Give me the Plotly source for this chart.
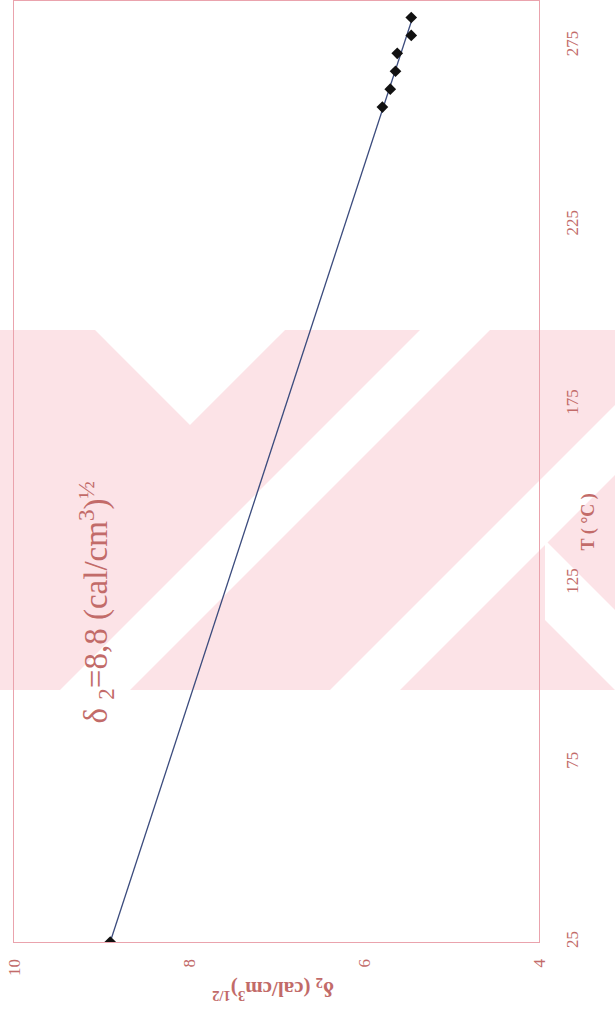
import numpy as np
import plotly.graph_objects as go

# Temperature (°C) and solubility parameter δ2 ((cal/cm³)^½)
temperature = [25, 258, 263, 268, 273, 278, 283]
delta2 = [8.90, 5.79, 5.70, 5.64, 5.62, 5.46, 5.46]

delta_ticks = [10, 8, 6, 4]
temp_ticks = [25, 75, 125, 175, 225, 275]

W, H = 615, 1025
L, R, T, B = 14, 76, 1, 83

FRAME = "#eaa3ad"
TXT = "#c26b69"
PINK = "#fce3e7"
FONT = "Liberation Serif"

# linear trend through the measurements
slope, icpt = np.polyfit(temperature, delta2, 1)
t_fit = np.array([min(temperature), max(temperature)])
d_fit = slope * t_fit + icpt

fig = go.Figure()
fig.add_trace(go.Scatter(x=d_fit, y=t_fit, mode="lines",
                         line=dict(color="#3b4b7d", width=1.3),
                         hoverinfo="skip", showlegend=False))
fig.add_trace(go.Scatter(x=delta2, y=temperature, mode="markers",
                         marker=dict(symbol="diamond", size=9, color="#111111"),
                         showlegend=False))


def px(x):
    return (x - L) / (W - L - R)


def py(y):
    return (H - B - y) / (H - T - B)


def poly(points, color):
    path = "M " + " L ".join(f"{px(x):.4f},{py(y):.4f}" for x, y in points) + " Z"
    return dict(type="path", path=path, xref="paper", yref="paper",
                fillcolor=color, line=dict(width=0), layer="below")


# background emblem: pink band with white diagonal cut-outs
shapes = [poly([(0, 330), (95, 330), (190, 425), (285, 330), (615, 330),
                (615, 690), (0, 690)], PINK)]
for pts in [
    [(60, 690), (130, 690), (490, 330), (420, 330)],
    [(330, 690), (400, 690), (615, 475), (615, 405)],
    [(545, 540), (615, 610), (615, 690), (545, 620)],
]:
    shapes.append(poly(pts, "white"))

fig.update_layout(
    width=W, height=H,
    margin=dict(l=L, r=R, t=T, b=B),
    paper_bgcolor="white", plot_bgcolor="rgba(0,0,0,0)",
    shapes=shapes,
    font=dict(family=FONT, color=TXT),
    xaxis=dict(range=[10, 4], tickvals=delta_ticks, tickangle=-90,
               ticks="outside", ticklen=9, tickcolor="rgba(0,0,0,0)",
               tickfont=dict(size=17, color=TXT, family=FONT),
               showgrid=False, zeroline=False,
               showline=True, mirror=True, linecolor=FRAME, linewidth=1.2),
    yaxis=dict(range=[25, 287.6], tickvals=temp_ticks, tickangle=-90, side="right",
               ticks="outside", ticklen=17, tickcolor="rgba(0,0,0,0)",
               tickfont=dict(size=17, color=TXT, family=FONT),
               showgrid=False, zeroline=False,
               showline=True, mirror=True, linecolor=FRAME, linewidth=1.2),
)

fig.add_annotation(x=px(601), y=py(522), xref="paper", yref="paper",
                   text="<b>T ( °C )</b>", showarrow=False, textangle=-90,
                   font=dict(size=18, color=TXT, family=FONT))
fig.add_annotation(x=px(273), y=py(1006), xref="paper", yref="paper",
                   text="<b>δ<sub>2</sub> (cal/cm<sup>3</sup>)<sup>1/2</sup></b>",
                   showarrow=False, textangle=180,
                   font=dict(size=21, color=TXT, family=FONT))
fig.add_annotation(x=px(70), y=py(603), xref="paper", yref="paper",
                   text="δ <sub>2</sub>=8,8 (cal/cm<sup>3</sup>)<sup>½</sup>",
                   showarrow=False, textangle=-90,
                   font=dict(size=33, color=TXT, family=FONT))

fig.write_html("out.html")
